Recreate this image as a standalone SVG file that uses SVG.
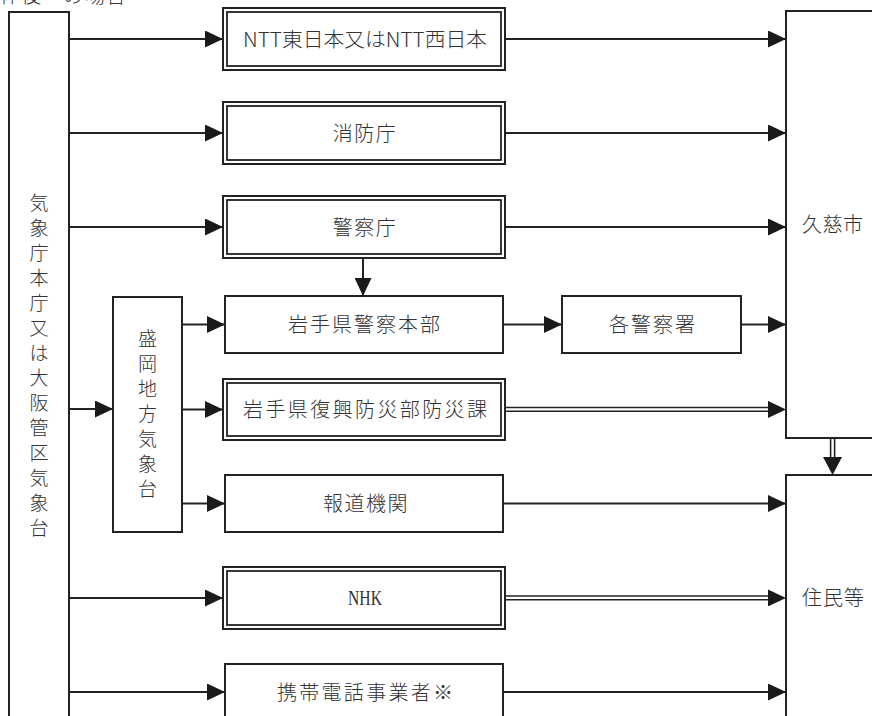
<svg xmlns="http://www.w3.org/2000/svg" width="872" height="716" viewBox="0 0 872 716">
<defs>
<style>
.box{fill:#fff;stroke:#222;stroke-width:2}
.in{fill:none;stroke:#222;stroke-width:1.8}
.ln{stroke:#222;stroke-width:2;fill:none}
.dl{stroke:#222;stroke-width:1.6;fill:none}
.t{font-family:"Noto Sans CJK JP","Liberation Serif",sans-serif;font-size:20px;fill:#333;font-weight:300}
.v{font-family:"Noto Sans CJK JP",sans-serif;font-size:19px;fill:#333;font-weight:300;text-anchor:middle}
.lat{font-family:"Liberation Serif","Noto Sans CJK JP",serif;font-size:20px;fill:#333}
.c{text-anchor:middle}
</style>
<marker id="ah" markerUnits="userSpaceOnUse" markerWidth="18" markerHeight="17" viewBox="0 0 18 17" refX="18" refY="8.5" orient="auto">
<path d="M0,0 L18,8.5 L0,17 z" fill="#1a1a1a"/>
</marker>
</defs>
<rect width="872" height="716" fill="#fff"/>

<text class="t" y="3"><tspan x="0">体</tspan><tspan x="21">後</tspan><tspan x="63">の</tspan><tspan x="85">場</tspan><tspan x="106">合</tspan></text>

<g id="connectors">
<line class="ln" x1="69" y1="39" x2="223" y2="39" marker-end="url(#ah)"/>
<line class="ln" x1="69" y1="133" x2="223" y2="133" marker-end="url(#ah)"/>
<line class="ln" x1="69" y1="227" x2="223" y2="227" marker-end="url(#ah)"/>
<line class="ln" x1="69" y1="409" x2="113" y2="409" marker-end="url(#ah)"/>
<line class="ln" x1="69" y1="598" x2="223" y2="598" marker-end="url(#ah)"/>
<line class="ln" x1="69" y1="692" x2="225" y2="692" marker-end="url(#ah)"/>
<line class="ln" x1="182" y1="324.5" x2="225" y2="324.5" marker-end="url(#ah)"/>
<line class="ln" x1="182" y1="409.5" x2="223" y2="409.5" marker-end="url(#ah)"/>
<line class="ln" x1="182" y1="503.5" x2="225" y2="503.5" marker-end="url(#ah)"/>
<line class="ln" x1="363" y1="258" x2="363" y2="296" marker-end="url(#ah)"/>
<line class="ln" x1="505" y1="39" x2="786" y2="39" marker-end="url(#ah)"/>
<line class="ln" x1="505" y1="133" x2="786" y2="133" marker-end="url(#ah)"/>
<line class="ln" x1="505" y1="227" x2="786" y2="227" marker-end="url(#ah)"/>
<line class="ln" x1="503" y1="324.5" x2="562" y2="324.5" marker-end="url(#ah)"/>
<line class="ln" x1="741" y1="324.5" x2="786" y2="324.5" marker-end="url(#ah)"/>
<line class="dl" x1="505" y1="407.5" x2="772" y2="407.5"/>
<line class="dl" x1="505" y1="411.3" x2="772" y2="411.3"/>
<line x1="760" y1="409.4" x2="786" y2="409.4" stroke="none" marker-end="url(#ah)"/>
<line class="ln" x1="503" y1="503.5" x2="786" y2="503.5" marker-end="url(#ah)"/>
<line class="dl" x1="505" y1="596" x2="772" y2="596"/>
<line class="dl" x1="505" y1="599.8" x2="772" y2="599.8"/>
<line x1="760" y1="597.9" x2="786" y2="597.9" stroke="none" marker-end="url(#ah)"/>
<line class="ln" x1="503" y1="692" x2="786" y2="692" marker-end="url(#ah)"/>
<line class="dl" x1="830.6" y1="438" x2="830.6" y2="460"/>
<line class="dl" x1="834.6" y1="438" x2="834.6" y2="460"/>
<polygon points="823,457 842,457 832.6,475" fill="#1a1a1a"/>
</g>

<g id="jma">
<rect class="box" x="9" y="12" width="60" height="720"/>
<text class="v"><tspan x="39" y="210">気</tspan><tspan x="39" y="235">象</tspan><tspan x="39" y="260">庁</tspan><tspan x="39" y="285">本</tspan><tspan x="39" y="310">庁</tspan><tspan x="39" y="335">又</tspan><tspan x="39" y="360">は</tspan><tspan x="39" y="385">大</tspan><tspan x="39" y="410">阪</tspan><tspan x="39" y="435">管</tspan><tspan x="39" y="460">区</tspan><tspan x="39" y="485">気</tspan><tspan x="39" y="510">象</tspan><tspan x="39" y="535">台</tspan></text>
</g>

<g id="morioka">
<rect class="box" x="113" y="297" width="69" height="235"/>
<text class="v"><tspan x="147.5" y="346">盛</tspan><tspan x="147.5" y="371">岡</tspan><tspan x="147.5" y="396">地</tspan><tspan x="147.5" y="421">方</tspan><tspan x="147.5" y="446">気</tspan><tspan x="147.5" y="471">象</tspan><tspan x="147.5" y="496">台</tspan></text>
</g>

<g id="ntt">
<rect class="box" x="223" y="8" width="282" height="62"/>
<rect class="in" x="227" y="12" width="274" height="54"/>
<text class="t" x="243" y="47" textLength="244" lengthAdjust="spacingAndGlyphs">NTT東日本又はNTT西日本</text>
</g>

<g id="fdma">
<rect class="box" x="223" y="102" width="282" height="62"/>
<rect class="in" x="227" y="106" width="274" height="54"/>
<text class="t c" x="365" y="141" letter-spacing="1.5">消防庁</text>
</g>

<g id="npa">
<rect class="box" x="223" y="196" width="282" height="62"/>
<rect class="in" x="227" y="200" width="274" height="54"/>
<text class="t c" x="365" y="235" letter-spacing="1.5">警察庁</text>
</g>

<g id="iwate-police">
<rect class="box" x="225" y="296" width="278" height="57"/>
<text class="t c" x="365" y="332" letter-spacing="2">岩手県警察本部</text>
</g>

<g id="stations">
<rect class="box" x="562" y="296" width="179" height="57"/>
<text class="t c" x="653" y="332" letter-spacing="2">各警察署</text>
</g>

<g id="iwate-bousai">
<rect class="box" x="223" y="379" width="282" height="61"/>
<rect class="in" x="227" y="383" width="274" height="53"/>
<text class="t" x="243" y="417" textLength="244" lengthAdjust="spacing">岩手県復興防災部防災課</text>
</g>

<g id="media">
<rect class="box" x="225" y="475" width="278" height="57"/>
<text class="t c" x="366" y="511" letter-spacing="1.5">報道機関</text>
</g>

<g id="nhk">
<rect class="box" x="223" y="567" width="282" height="62"/>
<rect class="in" x="227" y="571" width="274" height="54"/>
<text class="lat c" x="365" y="605" textLength="34" lengthAdjust="spacingAndGlyphs">NHK</text>
</g>

<g id="mobile">
<rect class="box" x="225" y="664" width="278" height="70"/>
<text class="t" x="277" y="700" textLength="176" lengthAdjust="spacing">携帯電話事業者※</text>
</g>

<g id="kuji">
<rect class="box" x="786" y="11" width="100" height="427"/>
<text class="t" x="802" y="232" letter-spacing="0.5">久慈市</text>
</g>

<g id="residents">
<rect class="box" x="786" y="475" width="100" height="260"/>
<text class="t" x="802" y="605" letter-spacing="1">住民等</text>
</g>
</svg>
